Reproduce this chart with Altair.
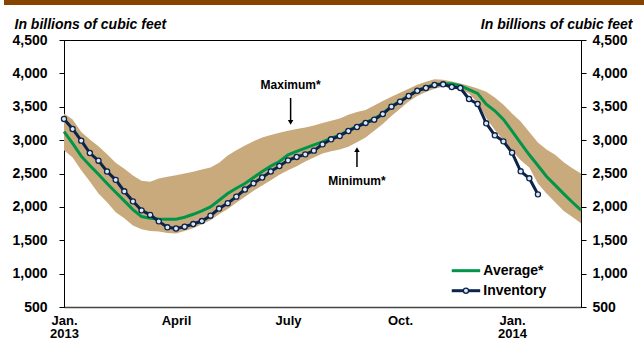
import altair as alt
import pandas as pd

# Weekly working gas in storage, billions of cubic feet (week 0 = first week of Jan. 2013)
weeks = list(range(61))
average = [3126, 2950, 2760, 2620, 2490, 2350, 2220, 2090, 1960, 1855,
           1828, 1820, 1816, 1816, 1845, 1889, 1940, 2000, 2100, 2200,
           2280, 2350, 2440, 2530, 2610, 2680, 2780, 2830, 2880, 2930,
           2975, 3030, 3075, 3145, 3205, 3265, 3320, 3400, 3505, 3585,
           3665, 3745, 3790, 3835, 3845, 3845, 3815, 3755, 3700, 3540,
           3440, 3310, 3135, 2955, 2780, 2620, 2455, 2325, 2195, 2070,
           1950]
maximum = [3400, 3310, 3120, 3010, 2910, 2790, 2660, 2570, 2470, 2390,
           2378, 2425, 2450, 2475, 2500, 2525, 2560, 2590, 2660, 2770,
           2850, 2920, 2985, 3040, 3077, 3110, 3140, 3165, 3190, 3220,
           3255, 3290, 3325, 3380, 3420, 3450, 3520, 3585, 3650, 3710,
           3770, 3830, 3875, 3912, 3905, 3880, 3850, 3815, 3775, 3725,
           3640, 3530, 3400, 3280, 3120, 2965, 2860, 2780, 2670, 2580,
           2500]
minimum = [2850, 2740, 2550, 2380, 2200, 2070, 1920, 1830, 1720, 1665,
           1640, 1630, 1610, 1600, 1640, 1680, 1740, 1800, 1890, 1970,
           2060, 2150, 2240, 2320, 2400, 2480, 2550, 2610, 2680, 2740,
           2800, 2835, 2860, 2900, 2970, 3040, 3140, 3240, 3360, 3470,
           3580, 3660, 3720, 3770, 3800, 3785, 3760, 3700, 3560, 3330,
           3150, 3000, 2840, 2700, 2590, 2350, 2200, 2070, 1940, 1850,
           1755]

inv_weeks = list(range(56))
inventory = [3317, 3167, 2992, 2807, 2692, 2530, 2405, 2233, 2083, 1948,
             1880, 1783, 1694, 1676, 1703, 1743, 1788, 1868, 1975, 2055,
             2153, 2260, 2353, 2440, 2530, 2612, 2697, 2747, 2787, 2842,
             2937, 3012, 3062, 3137, 3197, 3257, 3306, 3391, 3501, 3576,
             3661, 3740, 3781, 3826, 3836, 3796, 3781, 3616, 3541, 3252,
             3072, 2982, 2812, 2533, 2428, 2188]

quarter_weeks = [0, 13, 26, 39, 52]
quarter_labels = [["Jan.", "2013"], ["April"], ["July"], ["Oct."], ["Jan.", "2014"]]
y_ticks = [500, 1000, 1500, 2000, 2500, 3000, 3500, 4000, 4500]
series_names = ["Average*", "Inventory"]
unit_title = "In billions of cubic feet"

FONT = "Liberation Sans"
GREEN = "#00964a"
NAVY = "#0c234b"
TAN = "#c9aa7d"
MARKER_FILL = "#dde7f3"
BAR = "#874300"

band_df = pd.DataFrame({"week": weeks, "avg": average, "max": maximum, "min": minimum})
inv_df = pd.DataFrame({"week": inv_weeks, "inventory": inventory})

# x tick labels (multi-line for the year starts)
label_expr = "".join(
    "datum.value == {} ? [{}] : ".format(w, ", ".join("'{}'".format(s) for s in lab))
    for w, lab in zip(quarter_weeks, quarter_labels)
) + "''"

x_scale = alt.Scale(domain=[0, 60], nice=False, zero=False)
y_scale = alt.Scale(domain=[500, 4500], nice=False, zero=False)

x_axis = alt.Axis(values=quarter_weeks, labelExpr=label_expr, ticks=False, tickSize=0,
                  grid=False, domainColor="#444444", domainWidth=1.5, title=None,
                  labelFont=FONT, labelFontSize=13, labelFontWeight="bold",
                  labelColor="black", labelPadding=7, labelLineHeight=13.5,
                  labelFlush=False, labelOverlap=False)


def x_enc(field):
    return alt.X(field, type="quantitative", scale=x_scale, axis=x_axis)


def y_axis(orient, title_x, align, pad):
    return alt.Axis(orient=orient, values=y_ticks, format=",.0f", grid=False,
                    tickSize=5, tickColor="black", tickWidth=1,
                    domainColor="black", domainWidth=1,
                    labelFont=FONT, labelFontSize=14, labelFontWeight="bold",
                    labelColor="black", labelPadding=pad,
                    title=unit_title, titleAngle=0, titleAlign=align,
                    titleBaseline="alphabetic", titleX=title_x, titleY=-12,
                    titleFont=FONT, titleFontSize=14, titleFontWeight="bold",
                    titleFontStyle="italic", titleColor="black")


left_axis = y_axis("left", -50, "left", 12)
right_axis = y_axis("right", 51, "right", 6)

# brown rule across the top of the figure
top_bar = alt.Chart(pd.DataFrame({"k": [0]})).mark_rect(color=BAR).encode(
    x=alt.value(-60), x2=alt.value(580), y=alt.value(-40), y2=alt.value(-35))

band = alt.Chart(band_df).mark_area(color=TAN, opacity=1).encode(
    x=x_enc("week"),
    y=alt.Y("max:Q", scale=y_scale, axis=left_axis),
    y2="min:Q")

avg_line = alt.Chart(band_df).mark_line(color=GREEN, strokeWidth=3).encode(
    x=x_enc("week"), y=alt.Y("avg:Q", scale=y_scale, axis=left_axis))

inv_line = alt.Chart(inv_df).mark_line(color=NAVY, strokeWidth=3).encode(
    x=x_enc("week"), y=alt.Y("inventory:Q", scale=y_scale, axis=left_axis))

inv_pts = alt.Chart(inv_df).mark_circle(size=26, fill=MARKER_FILL, stroke=NAVY,
                                        strokeWidth=1.3, opacity=1).encode(
    x=x_enc("week"), y=alt.Y("inventory:Q", scale=y_scale, axis=left_axis))

# "Maximum*" / "Minimum*" callouts with arrows
notes = pd.DataFrame({
    "label": ["Maximum*", "Minimum*"],
    "week": [26.3, 34.0],
    "text_y": [3826, 2388],
    "tail": [3631, 2597],
    "head": [3267, 2858],
})
note_text = alt.Chart(notes).mark_text(font=FONT, fontSize=12, fontWeight="bold",
                                       color="black", align="center",
                                       baseline="middle").encode(
    x=x_enc("week"), y=alt.Y("text_y:Q", scale=y_scale, axis=left_axis), text="label:N")
note_stem = alt.Chart(notes).mark_rule(color="black", strokeWidth=1.5).encode(
    x=x_enc("week"), y=alt.Y("tail:Q", scale=y_scale, axis=left_axis), y2="head:Q")
head_down = alt.Chart(notes.iloc[[0]]).mark_point(shape="triangle-down", filled=True,
                                                 color="black", size=30, opacity=1).encode(
    x=x_enc("week"), y=alt.Y("head:Q", scale=y_scale, axis=left_axis))
head_up = alt.Chart(notes.iloc[[1]]).mark_point(shape="triangle-up", filled=True,
                                               color="black", size=30, opacity=1).encode(
    x=x_enc("week"), y=alt.Y("head:Q", scale=y_scale, axis=left_axis))

# key in the lower right of the plot
key = pd.DataFrame({"series": series_names, "y": [1044, 744],
                    "x0": [45.0, 45.0], "x1": [48.3, 48.3], "xt": [48.66, 48.66],
                    "xm": [46.65, 46.65]})
key_color = alt.Color("series:N", scale=alt.Scale(domain=series_names, range=[GREEN, NAVY]),
                      legend=None)
key_lines = alt.Chart(key).mark_rule(strokeWidth=3).encode(
    x=x_enc("x0"), x2="x1:Q", y=alt.Y("y:Q", scale=y_scale, axis=left_axis), color=key_color)
key_marker = alt.Chart(key.iloc[[1]]).mark_circle(size=26, fill=MARKER_FILL, stroke=NAVY,
                                                  strokeWidth=1.3, opacity=1).encode(
    x=x_enc("xm"), y=alt.Y("y:Q", scale=y_scale, axis=left_axis))
key_text = alt.Chart(key).mark_text(font=FONT, fontSize=14, fontWeight="bold", color="black",
                                    align="left", baseline="middle").encode(
    x=x_enc("xt"), y=alt.Y("y:Q", scale=y_scale, axis=left_axis), text="series:N")

main = alt.layer(top_bar, band, avg_line, inv_line, inv_pts, note_stem, head_down, head_up,
                 note_text, key_lines, key_marker, key_text)

# duplicate value axis on the right
right = alt.Chart(band_df).mark_line(opacity=0).encode(
    x=x_enc("week"), y=alt.Y("avg:Q", scale=y_scale, axis=right_axis))

chart = alt.layer(main, right).resolve_scale(y="independent").properties(
    width=517, height=267,
    padding={"left": 64, "top": 40, "right": 63, "bottom": 36},
    autosize=alt.AutoSizeParams(type="none"),
    background="white",
).configure_view(stroke="black", strokeWidth=1)

chart.save("out.html", embed_options={"renderer": "svg", "actions": False})
